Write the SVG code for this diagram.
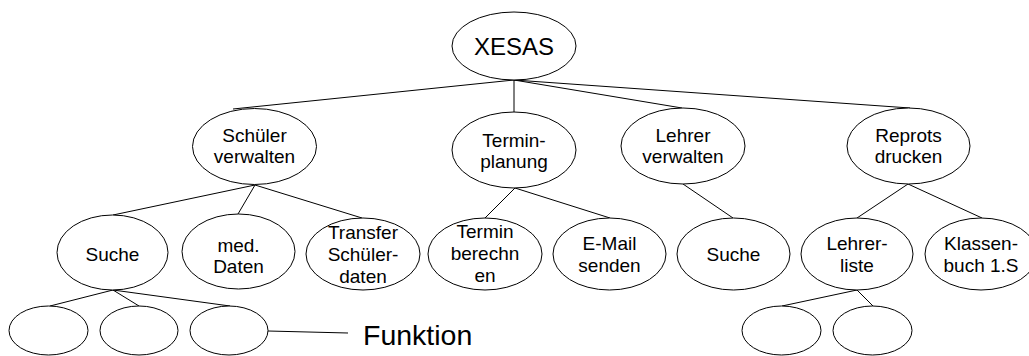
<svg xmlns="http://www.w3.org/2000/svg" width="1029" height="356" viewBox="0 0 1029 356">
<style>
  .n ellipse { fill: #fff; stroke: #000; stroke-width: 1; }
  .n text, .lbl { font-family: "Liberation Sans", Arial, sans-serif; font-size: 19px; fill: #000; text-anchor: middle; }
  #edges line { stroke: #000; stroke-width: 1; }
</style>
<rect width="1029" height="356" fill="#fff"/>
<g id="edges">
  <line x1="514" y1="80" x2="233" y2="109"/>
  <line x1="514" y1="80" x2="514" y2="112"/>
  <line x1="514" y1="80" x2="682" y2="108"/>
  <line x1="514" y1="80" x2="910" y2="108"/>
  <line x1="255" y1="185" x2="113" y2="215"/>
  <line x1="255" y1="185" x2="238" y2="214"/>
  <line x1="255" y1="185" x2="362" y2="218"/>
  <line x1="515" y1="188" x2="485" y2="218"/>
  <line x1="515" y1="188" x2="610" y2="218"/>
  <line x1="683" y1="184" x2="733" y2="218"/>
  <line x1="908" y1="184" x2="857" y2="218"/>
  <line x1="908" y1="184" x2="982" y2="218"/>
  <line x1="113" y1="290" x2="50" y2="306"/>
  <line x1="113" y1="290" x2="139" y2="306"/>
  <line x1="113" y1="290" x2="230" y2="306"/>
  <line x1="857" y1="290" x2="782" y2="306"/>
  <line x1="857" y1="290" x2="873" y2="306"/>
  <line x1="268" y1="331" x2="348" y2="333"/>
</g>
<g id="xesas" class="n"><ellipse cx="514" cy="46" rx="62" ry="34"/><text x="514" y="55" style="font-size:24px">XESAS</text></g>
<g id="schueler" class="n"><ellipse cx="254.5" cy="146.5" rx="62" ry="38"/><text x="254.5" y="142">Schüler</text><text x="254.5" y="163">verwalten</text></g>
<g id="terminplanung" class="n"><ellipse cx="514" cy="150" rx="62" ry="38"/><text x="514" y="147">Termin-</text><text x="514" y="168">planung</text></g>
<g id="lehrer" class="n"><ellipse cx="683" cy="146" rx="62" ry="38"/><text x="683" y="142">Lehrer</text><text x="683" y="163">verwalten</text></g>
<g id="reprots" class="n"><ellipse cx="908.5" cy="146" rx="61.5" ry="38"/><text x="908.5" y="142">Reprots</text><text x="908.5" y="163">drucken</text></g>
<g id="suche1" class="n"><ellipse cx="112.5" cy="252.5" rx="55.5" ry="37.5"/><text x="112.5" y="261">Suche</text></g>
<g id="med" class="n"><ellipse cx="238.5" cy="251.5" rx="56.5" ry="37.5"/><text x="238.5" y="252">med.</text><text x="238.5" y="273">Daten</text></g>
<g id="transfer" class="n"><ellipse cx="363" cy="254" rx="57" ry="36"/><text x="363" y="239">Transfer</text><text x="363" y="261">Schüler-</text><text x="363" y="283">daten</text></g>
<g id="berechnen" class="n"><ellipse cx="485" cy="254" rx="57" ry="36"/><text x="485" y="238">Termin</text><text x="485" y="260">berechn</text><text x="485" y="282">en</text></g>
<g id="email" class="n"><ellipse cx="609.5" cy="254" rx="56.5" ry="36"/><text x="609.5" y="250">E-Mail</text><text x="609.5" y="272">senden</text></g>
<g id="suche2" class="n"><ellipse cx="733.5" cy="254" rx="56.5" ry="36"/><text x="733.5" y="261">Suche</text></g>
<g id="lehrerliste" class="n"><ellipse cx="857" cy="254" rx="56" ry="36"/><text x="857" y="250">Lehrer-</text><text x="857" y="272">liste</text></g>
<g id="klassenbuch" class="n"><ellipse cx="981" cy="254" rx="56" ry="36"/><text x="981" y="250">Klassen-</text><text x="981" y="272">buch 1.S</text></g>
<g id="f1" class="n"><ellipse cx="48.5" cy="330.5" rx="39.5" ry="24.5"/></g>
<g id="f2" class="n"><ellipse cx="139" cy="330.5" rx="39" ry="24.5"/></g>
<g id="f3" class="n"><ellipse cx="229" cy="330.5" rx="39" ry="24.5"/></g>
<g id="f4" class="n"><ellipse cx="781.5" cy="330.5" rx="39.5" ry="24.5"/></g>
<g id="f5" class="n"><ellipse cx="872.5" cy="330.5" rx="39.5" ry="24.5"/></g>
<g id="funktion"><text class="lbl" x="363" y="345" style="font-size:28.5px;text-anchor:start">Funktion</text></g>
</svg>
